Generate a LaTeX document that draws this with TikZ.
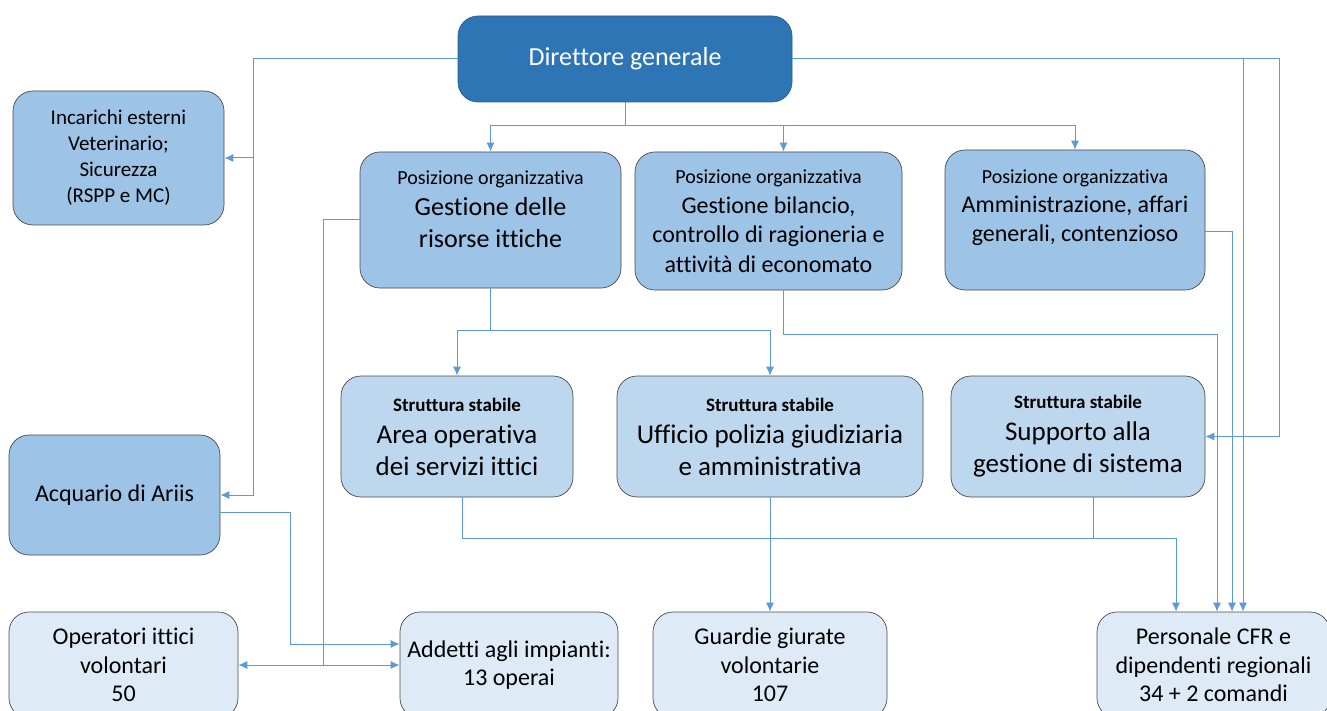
\documentclass[tikz,border=0pt]{standalone}
\usepackage{fontspec}
\setmainfont[Ligatures=NoCommon]{Carlito}
\usetikzlibrary{arrows.meta}
\definecolor{dirblue}{HTML}{2E75B6}
\definecolor{dirline}{HTML}{2A5E8C}
\definecolor{midblue}{HTML}{9DC3E6}
\definecolor{lightblue}{HTML}{BDD7EE}
\definecolor{paleblue}{HTML}{DEEBF7}
\definecolor{boxline}{HTML}{4A4A4A}
\definecolor{linkblue}{HTML}{5B9BD5}
\newcommand{\poslabel}{{\fontsize{20}{24}\selectfont Posizione organizzativa}}
\newcommand{\sslabel}{{\fontsize{19}{23}\selectfont\bfseries Struttura stabile}}
\newcommand{\lowpad}[1]{\rule[-#1]{0pt}{0pt}}
\begin{document}
\begin{tikzpicture}[x=1pt,y=-1pt,
    box/.style={draw=boxline, line width=0.7pt, rounded corners=20pt, align=center, inner sep=0pt},
    dirbox/.style={box, fill=dirblue, draw=dirline, text=white},
    midbox/.style={box, fill=midblue},
    ssbox/.style={box, fill=lightblue, minimum height=121pt, font=\fontsize{27}{32}\selectfont},
    basebox/.style={box, fill=paleblue, minimum height=106pt, font=\fontsize{24}{28.5}\selectfont},
    link/.style={draw=linkblue, line width=1pt},
    arr/.style={link, -{Latex[length=9pt,width=8pt]}},
    arrboth/.style={link, {Latex[length=9pt,width=8pt]}-{Latex[length=9pt,width=8pt]}}
]
\useasboundingbox (0,0) rectangle (1327,711);
\clip (0,0) rectangle (1327,711);
\fill[white] (0,0) rectangle (1327,711);

\node[dirbox, minimum width=334pt, minimum height=86pt, font=\fontsize{26}{31}\selectfont] (dir) at (625,59) {Direttore generale};
\node[midbox, minimum width=211pt, minimum height=134pt, font=\fontsize{21}{26}\selectfont] (inc) at (118.5,158)
    {Incarichi esterni\\Veterinario;\\Sicurezza\\(RSPP e MC)};
\node[midbox, minimum width=211pt, minimum height=120pt, font=\fontsize{24}{29}\selectfont] (acq) at (114.5,495) {Acquario di Ariis};

\node[midbox, minimum width=261pt, minimum height=136pt, font=\fontsize{26}{31.5}\selectfont] (po1) at (490.5,220)
    {\poslabel\\Gestione delle\\risorse ittiche\lowpad{22pt}};
\node[midbox, minimum width=267pt, minimum height=138pt, font=\fontsize{24}{29.5}\selectfont] (po2) at (768.5,221)
    {\poslabel\\Gestione bilancio,\\controllo di ragioneria e\\attività di economato};
\node[midbox, minimum width=260pt, minimum height=140pt, font=\fontsize{24}{29}\selectfont] (po3) at (1075,220)
    {\poslabel\\Amministrazione, affari\\generali, contenzioso\lowpad{28pt}};

\node[ssbox, minimum width=232pt] (ss1) at (457,436.5) {\sslabel\\Area operativa\\dei servizi ittici};
\node[ssbox, minimum width=306pt] (ss2) at (770,436.5) {\sslabel\\Ufficio polizia giudiziaria\\e amministrativa};
\node[ssbox, minimum width=254pt] (ss3) at (1078,436.5) {\sslabel\\Supporto alla\\gestione di sistema};

\node[basebox, minimum width=229pt] (op) at (123.5,665) {Operatori ittici\\volontari\\50};
\node[basebox, minimum width=218pt] (add) at (509,665) {Addetti agli impianti:\\13 operai};
\node[basebox, minimum width=234pt] (gua) at (770,665) {Guardie giurate\\volontarie\\107};
\node[basebox, minimum width=233pt] (pers) at (1213.5,665) {Personale CFR e\\dipendenti regionali\\34 + 2 comandi};

% direttore
\coordinate (lft) at (253,59);
\coordinate (mid) at (625,126);
\coordinate (rgt) at (1279,59);
\coordinate (rgtin) at (1243,59);
\draw[arr] (dir.west) -- (lft) |- (acq.east);
\draw[arr] (lft |- inc.east) -- (inc.east);
\draw[link] (dir.south) -- (mid);
\draw[arr] (mid) -| (po1.north);
\draw[arr] (mid) -| ([xshift=15pt]po2.north);
\draw[arr] (mid) -| (po3.north);
\draw[arr] (dir.east) -- (rgt) |- (ss3.east);
\draw[arr] (rgtin) -- ([xshift=29.5pt]pers.north);

% posizioni organizzative
\draw[link] (po1.south) -- ++(0,42) coordinate (fork);
\draw[arr] (fork) -| (ss1.north);
\draw[arr] (fork) -| (ss2.north);
\draw[arr] ([xshift=15pt]po2.south) -- ++(0,44) -| ([xshift=3.5pt]pers.north);
\draw[arr] ([yshift=-12pt]po3.east) -| ([xshift=18.5pt]pers.north);
\coordinate (vx) at (323,0);
\draw[link] (po1.west) -| (vx |- op.east);

% strutture stabili
\draw[arr] ([xshift=5pt]ss1.south) -- ++(0,41) -| ([xshift=-37.5pt]pers.north);
\draw[link] ([xshift=15pt]ss3.south) -- ++(0,41);
\draw[arr] (ss2.south) -- (gua.north);

% livello base
\draw[arrboth] (op.east) -- (add.west);
\draw[arr] ([yshift=-17pt]acq.east) -- ++(70,0) |- ([yshift=21pt]add.west);
\end{tikzpicture}
\end{document}
